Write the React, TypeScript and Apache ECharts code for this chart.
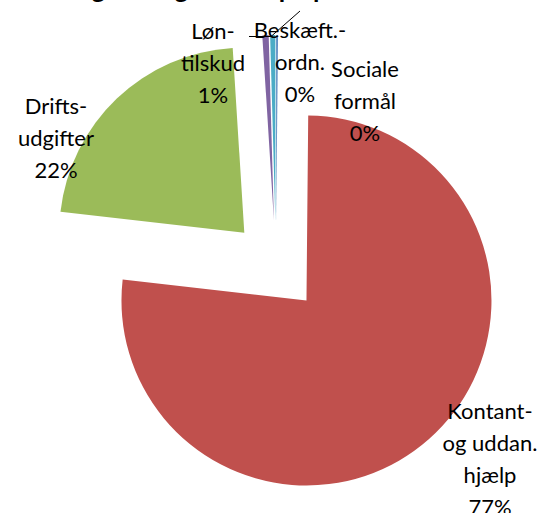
import React, { useEffect, useRef } from "react";
import * as echarts from "echarts";

// Categories (label text with the original line breaks)
const categories = [
  "Sociale\nformål",
  "Kontant-\nog uddan.\nhjælp",
  "Drifts-\nudgifter",
  "Løn-\ntilskud",
  "Beskæft.-\nordn.",
];
// Share of expenditure (percent)
const values = [0.15, 76.65, 22.2, 0.55, 0.45];
const colors = ["#4F81BD", "#C0504D", "#9BBB59", "#8064A2", "#4BACC6"];
// Where the (user-moved) data labels sit: centre of each label block
const labelAnchors: number[][] = [
  [365, 100],
  [490, 458],
  [56, 137],
  [213, 62],
  [300, 61],
];
const titleText = "Udgifter og tilskud på poster";

export default function App() {
  const ref = useRef<HTMLDivElement>(null);
  useEffect(() => {
    if (!ref.current) return;
    const chart = echarts.init(ref.current, null, { renderer: "svg" });
    const font = "Lato, 'Noto Sans', sans-serif";
    const total = values.reduce((a, b) => a + b, 0);
    const labels = categories.map((name, i) => ({
      type: "text",
      x: labelAnchors[i][0],
      y: labelAnchors[i][1],
      z: 20,
      style: {
        text: name + "\n" + Math.round((values[i] / total) * 100) + "%",
        font: "22px " + font,
        fill: "#000",
        align: "center",
        verticalAlign: "middle",
        lineHeight: 32,
      },
    }));
    chart.setOption({
      animation: false,
      backgroundColor: "#ffffff",
      graphic: [
        {
          type: "text",
          x: 58,
          y: 1,
          style: {
            text: titleText,
            font: "bold 26px " + font,
            fill: "#000",
            verticalAlign: "bottom",
          },
        },
        {
          type: "polyline",
          shape: { points: [[249, 36.5], [271, 36.5], [300, 11]] },
          style: { stroke: "#000", lineWidth: 1, fill: "none" },
          z: 10,
        },
        ...labels,
      ],
      series: [
        {
          type: "pie",
          center: [276, 266],
          radius: 185,
          startAngle: 90,
          clockwise: true,
          selectedMode: "multiple",
          selectedOffset: 46,
          avoidLabelOverlap: false,
          emphasis: { disabled: true },
          itemStyle: { borderWidth: 0 },
          label: { show: false },
          labelLine: { show: false },
          data: categories.map((name, i) => ({
            name,
            value: values[i],
            selected: true,
            itemStyle: { color: colors[i] },
          })),
        },
      ],
    });
    return () => chart.dispose();
  }, []);
  return (
    <div
      ref={ref}
      style={{ position: "fixed", left: 0, top: 0, width: 546, height: 513 }}
    />
  );
}
